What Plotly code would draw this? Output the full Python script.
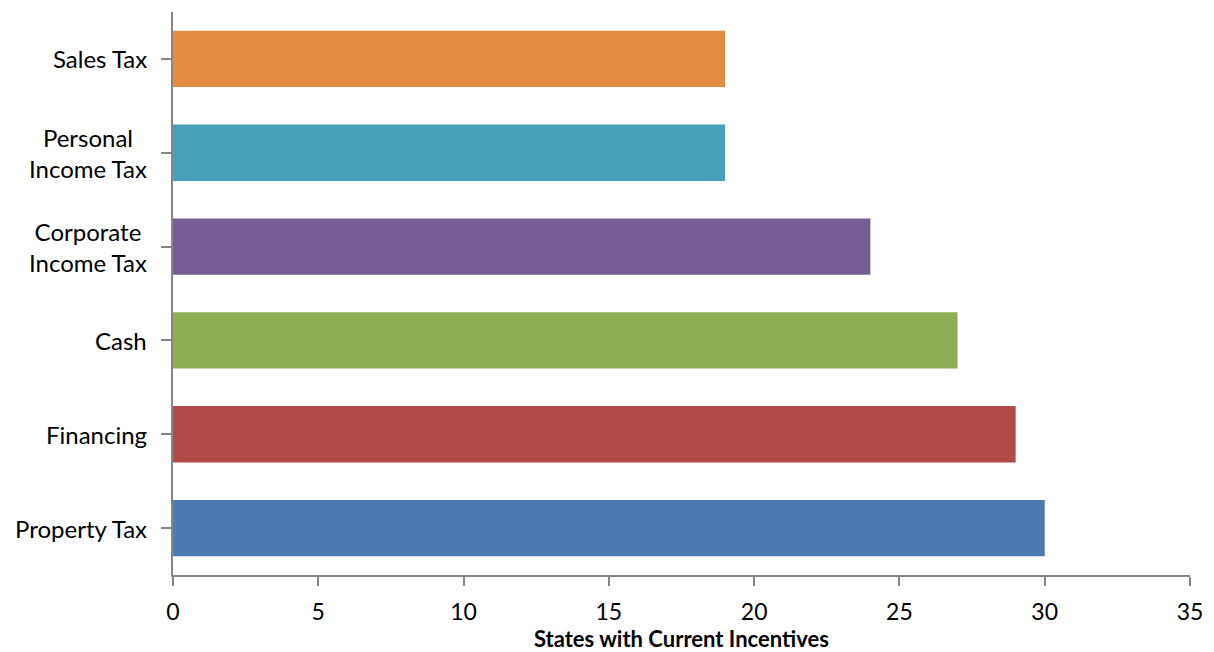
import plotly.graph_objects as go

categories = ["Property Tax", "Financing", "Cash", "Corporate<br>Income Tax", "Personal<br>Income Tax", "Sales Tax"]
values = [30, 29, 27, 24, 19, 19]
colors = ["#4A7AAF", "#B04B48", "#8FAD53", "#765D96", "#46A1B9", "#E48B43"]
x_ticks = [0, 5, 10, 15, 20, 25, 30, 35]
x_title = "States with Current Incentives"

FONT = "Lato, 'Open Sans', sans-serif"

fig = go.Figure()
fig.add_trace(go.Bar(
    y=list(range(len(categories))), x=values, orientation="h",
    marker=dict(color=colors, line=dict(width=0)), width=0.6,
    hoverinfo="x",
))

annotations = []
for i, c in enumerate(categories):
    annotations.append(dict(
        x=0, xref="paper", y=i, yref="y", text=c, showarrow=False,
        xanchor="right", yanchor="middle", align="center", xshift=-24,
        font=dict(family=FONT, size=24, color="#000000"),
    ))
annotations.append(dict(
    x=0.5, xref="paper", y=0, yref="paper", text="<b>" + x_title + "</b>", showarrow=False,
    xanchor="center", yanchor="middle", yshift=-63, borderpad=0,
    font=dict(family=FONT, size=22, color="#000000"),
))

fig.update_layout(
    width=1214, height=652,
    margin=dict(l=173, r=24, t=12, b=77, autoexpand=False),
    paper_bgcolor="white", plot_bgcolor="white",
    showlegend=False,
    annotations=annotations,
    bargap=0.4,
    xaxis=dict(
        range=[0, 35], tickvals=x_ticks, ticktext=[str(v) for v in x_ticks],
        showgrid=False, zeroline=False, showline=True, linecolor="#868686", linewidth=2,
        ticks="outside", ticklen=9, tickwidth=2, tickcolor="#868686",
        tickfont=dict(family=FONT, size=23, color="#000000"),
        ticklabelstandoff=6, automargin=False,
        fixedrange=True,
    ),
    yaxis=dict(
        range=[-0.5, 5.5], tickvals=list(range(len(categories))), showticklabels=False,
        tickson="boundaries", ticks="outside", ticklen=10, tickwidth=2, tickcolor="#868686",
        showgrid=False, zeroline=False, showline=True, linecolor="#868686", linewidth=2,
        fixedrange=True, automargin=False,
    ),
)

fig.write_html("out.html")
